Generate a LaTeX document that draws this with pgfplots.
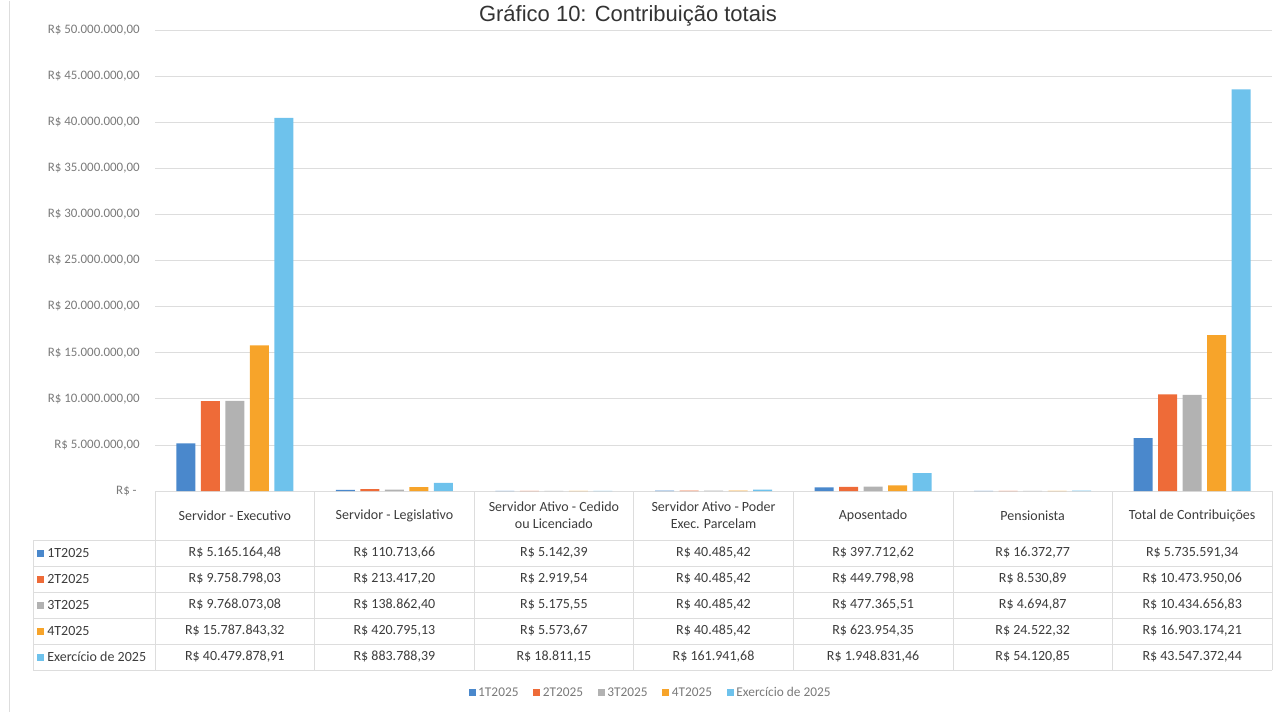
\documentclass[border=0pt]{standalone}
\usepackage{fontspec}
\setmainfont{Carlito}
\newfontfamily\titlefont{Liberation Sans}
\usepackage{pgfplots}
\pgfplotsset{compat=1.18}
\definecolor{cA}{HTML}{4A88CC}
\definecolor{cB}{HTML}{EE6B38}
\definecolor{cC}{HTML}{B2B2B2}
\definecolor{cD}{HTML}{F7A42A}
\definecolor{cE}{HTML}{6EC2EC}
\definecolor{txt}{HTML}{3C3C3C}
\definecolor{ltxt}{HTML}{7A7A7A}
\definecolor{gridc}{HTML}{DDDDDD}
\pgfplotsset{sq legend/.style={legend image code/.code={\fill[##1] (0pt,-2.6pt) rectangle (5.2pt,2.6pt);}}}
\begin{document}
\begin{tikzpicture}
\begin{scope}[x=0.75pt,y=-0.75pt]
\useasboundingbox (0,0) rectangle (1276,712);
\draw[gridc, line width=0.4pt] (9,1) -- (9,712);
\node[anchor=base, font=\titlefont\fontsize{16.5}{19}\selectfont, text=black!80] at (628,22) {Gráfico 10: Contribuição totais};
\end{scope}
\begin{axis}[
  at={(116.25pt,-368.25pt)}, anchor=south west,
  scale only axis, width=837.75pt, height=345.75pt,
  xmin=-0.5, xmax=6.5, ymin=0, ymax=50000000,
  axis line style={draw=none},
  xtick=\empty,
  ytick={0,5000000,10000000,15000000,20000000,25000000,30000000,35000000,40000000,45000000,50000000},
  yticklabels={{R\$ -\ \ },{R\$ 5.000.000,00},{R\$ 10.000.000,00},{R\$ 15.000.000,00},{R\$ 20.000.000,00},{R\$ 25.000.000,00},{R\$ 30.000.000,00},{R\$ 35.000.000,00},{R\$ 40.000.000,00},{R\$ 45.000.000,00},{R\$ 50.000.000,00}},
  scaled y ticks=false,
  major tick length=0pt,
  yticklabel style={font=\fontsize{9.7}{11}\selectfont, text=ltxt, xshift=-8pt},
  ymajorgrids, grid style={gridc, line width=0.5pt},
  ybar, bar width=14.25pt,
  legend style={draw=none, at={(0.444,-0.438)}, anchor=center, legend columns=5,
    font=\fontsize{10}{12}\selectfont, text=ltxt,
    /tikz/every even column/.append style={column sep=9pt}},
]
\addplot[fill=cA, draw=none, bar shift=-36.75pt, sq legend] coordinates {(0,5165164.48) (1,110713.66) (2,5142.39) (3,40485.42) (4,397712.62) (5,16372.77) (6,5735591.34)};
\addplot[fill=cB, draw=none, bar shift=-18.375pt, sq legend] coordinates {(0,9758798.03) (1,213417.20) (2,2919.54) (3,40485.42) (4,449798.98) (5,8530.89) (6,10473950.06)};
\addplot[fill=cC, draw=none, bar shift=0pt, sq legend] coordinates {(0,9768073.08) (1,138862.40) (2,5175.55) (3,40485.42) (4,477365.51) (5,4694.87) (6,10434656.83)};
\addplot[fill=cD, draw=none, bar shift=18.375pt, sq legend] coordinates {(0,15787843.32) (1,420795.13) (2,5573.67) (3,40485.42) (4,623954.35) (5,24522.32) (6,16903174.21)};
\addplot[fill=cE, draw=none, bar shift=36.75pt, sq legend] coordinates {(0,40479878.91) (1,883788.39) (2,18811.15) (3,161941.68) (4,1948831.46) (5,54120.85) (6,43547372.44)};
\legend{1T2025,2T2025,3T2025,4T2025,Exercício de 2025}
\end{axis}
\begin{scope}[x=0.75pt,y=-0.75pt]
% table grid
\foreach \k in {0,...,7} {\draw[gridc, line width=0.4pt] ({155+159.571*\k},491) -- ({155+159.571*\k},670);}
\draw[gridc, line width=0.4pt] (33,540) -- (33,670);
\foreach \yy in {540,566,592,618,644,670} {\draw[gridc, line width=0.4pt] (33,\yy) -- (1272,\yy);}
\begin{scope}[every node/.style={font=\fontsize{10.5}{12.5}\selectfont, text=txt, inner sep=0pt}]
% header
\node at (234.8,516) {Servidor - Executivo};
\node at (394.4,516) {Servidor - Legislativo};
\node[align=center] at (553.9,515.5) {Servidor Ativo - Cedido\\ou Licenciado};
\node[align=center] at (713.5,515.5) {Servidor Ativo - Poder\\Exec. Parcelam};
\node at (873.1,516) {Aposentado};
\node at (1032.7,516) {Pensionista};
\node at (1192.2,516) {Total de Contribuições};
% row labels
\fill[cA] (37,549.5) rectangle (43.5,556.5);
\fill[cB] (37,575.5) rectangle (43.5,582.5);
\fill[cC] (37,601.5) rectangle (43.5,608.5);
\fill[cD] (37,627.5) rectangle (43.5,634.5);
\fill[cE] (37,653.5) rectangle (43.5,660.5);
\node[anchor=west] at (47,553) {1T2025};
\node[anchor=west] at (47,579) {2T2025};
\node[anchor=west] at (47,605) {3T2025};
\node[anchor=west] at (47,631) {4T2025};
\node[anchor=west] at (47,657) {Exercício de 2025};
% row 1
\node at (234.8,553) {R\$ 5.165.164,48};
\node at (394.4,553) {R\$ 110.713,66};
\node at (553.9,553) {R\$ 5.142,39};
\node at (713.5,553) {R\$ 40.485,42};
\node at (873.1,553) {R\$ 397.712,62};
\node at (1032.7,553) {R\$ 16.372,77};
\node at (1192.2,553) {R\$ 5.735.591,34};
% row 2
\node at (234.8,579) {R\$ 9.758.798,03};
\node at (394.4,579) {R\$ 213.417,20};
\node at (553.9,579) {R\$ 2.919,54};
\node at (713.5,579) {R\$ 40.485,42};
\node at (873.1,579) {R\$ 449.798,98};
\node at (1032.7,579) {R\$ 8.530,89};
\node at (1192.2,579) {R\$ 10.473.950,06};
% row 3
\node at (234.8,605) {R\$ 9.768.073,08};
\node at (394.4,605) {R\$ 138.862,40};
\node at (553.9,605) {R\$ 5.175,55};
\node at (713.5,605) {R\$ 40.485,42};
\node at (873.1,605) {R\$ 477.365,51};
\node at (1032.7,605) {R\$ 4.694,87};
\node at (1192.2,605) {R\$ 10.434.656,83};
% row 4
\node at (234.8,631) {R\$ 15.787.843,32};
\node at (394.4,631) {R\$ 420.795,13};
\node at (553.9,631) {R\$ 5.573,67};
\node at (713.5,631) {R\$ 40.485,42};
\node at (873.1,631) {R\$ 623.954,35};
\node at (1032.7,631) {R\$ 24.522,32};
\node at (1192.2,631) {R\$ 16.903.174,21};
% row 5
\node at (234.8,657) {R\$ 40.479.878,91};
\node at (394.4,657) {R\$ 883.788,39};
\node at (553.9,657) {R\$ 18.811,15};
\node at (713.5,657) {R\$ 161.941,68};
\node at (873.1,657) {R\$ 1.948.831,46};
\node at (1032.7,657) {R\$ 54.120,85};
\node at (1192.2,657) {R\$ 43.547.372,44};
\end{scope}
\end{scope}
\end{tikzpicture}
\end{document}
